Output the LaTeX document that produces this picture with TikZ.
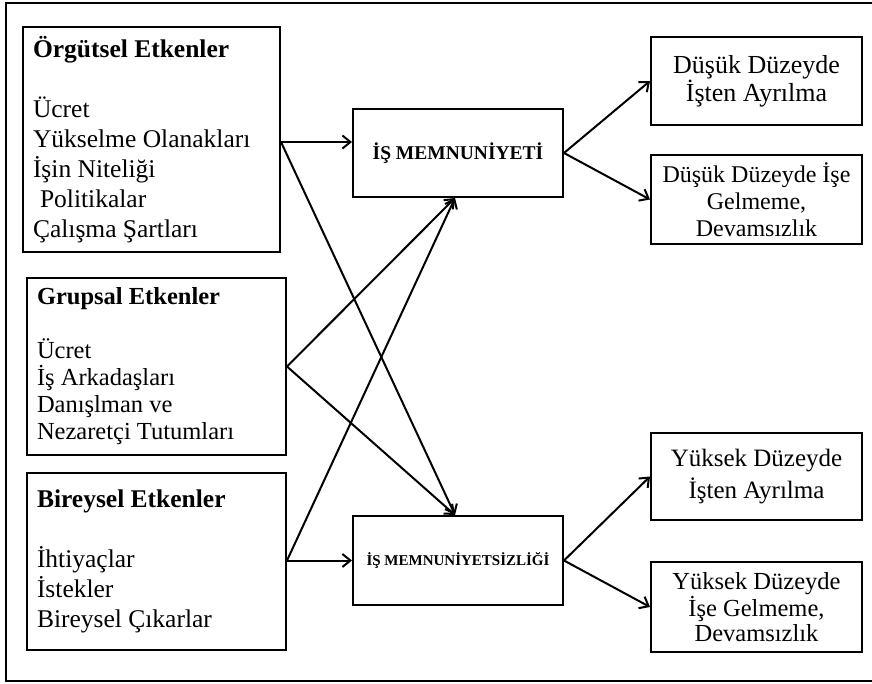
\documentclass[tikz,border=0pt]{standalone}
\usepackage{fontspec}
\setmainfont{Liberation Serif}
\usetikzlibrary{arrows.meta, positioning}

\begin{document}
\begin{tikzpicture}[
        x=1pt, y=-1pt,
        every node/.style={anchor=center},
        box/.style={draw, line width=2pt},
        etken/.style={box, align=flush left, inner xsep=10pt, inner ysep=0pt,
            font={\fontsize{25.5}{30}\selectfont}},
        durum/.style={box, minimum width=210pt, minimum height=88pt, inner sep=0pt},
        sonuc/.style={box, minimum width=211pt, minimum height=88pt, inner sep=0pt,
            align=flush center, font={\fontsize{24}{27}\selectfont}},
        ok/.style={-{Straight Barb[length=8pt, width=13pt]}, line width=2pt}
    ]
    \useasboundingbox (0,0) rectangle (872,684);

    % Frame
    \draw[line width=2pt] (6,3) rectangle (890,681);

    % Etkenler
    \node[etken, text width=237pt, minimum height=225pt] (orgutsel) at (151.5,139.5)
        {\textbf{Örgütsel Etkenler}\\[30pt]
         Ücret\\
         Yükselme Olanakları\\
         İşin Niteliği\\
         \hspace*{7pt}Politikalar\\
         Çalışma Şartları};
    \node[etken, text width=239pt, minimum height=177pt,
        font={\fontsize{24.5}{27}\selectfont}] (grupsal) at (156.5,366.5)
        {\textbf{Grupsal Etkenler}\\[27pt]
         Ücret\\
         İş Arkadaşları\\
         Danışlman ve\\
         Nezaretçi Tutumları};
    \node[etken, text width=239pt, minimum height=177pt] (bireysel) at (156.5,561.5)
        {\textbf{Bireysel Etkenler}\\[30pt]
         İhtiyaçlar\\
         İstekler\\
         Bireysel Çıkarlar};

    % Memnuniyet
    \node[durum, font={\fontsize{19.5}{22}\selectfont\bfseries}] (memnun) at (458,153)
        {İŞ MEMNUNİYETİ};
    \node[durum, minimum height=89pt, font={\fontsize{15}{18}\selectfont\bfseries}]
        (memnunsuz) at (458,560.5) {İŞ MEMNUNİYETSİZLİĞİ};

    % Sonuclar
    \node[sonuc, font={\fontsize{26}{28}\selectfont}] (dusukayr) at (756.5,81)
        {Düşük Düzeyde\\İşten Ayrılma};
    \node[sonuc, below=28pt of dusukayr, minimum height=89pt] (dusukgel)
        {Düşük Düzeyde İşe\\Gelmeme,\\Devamsızlık};
    \node[sonuc, minimum height=87pt, font={\fontsize{25}{32}\selectfont}] (yuksekayr)
        at (756.5,476.5) {Yüksek Düzeyde\\İşten Ayrılma};
    \node[sonuc, below=40pt of yuksekayr, minimum height=90pt,
        font={\fontsize{24.5}{25}\selectfont}] (yuksekgel)
        {Yüksek Düzeyde\\İşe Gelmeme,\\Devamsızlık};

    % Arrows
    \coordinate (m1) at ([yshift=11pt]memnun.west);
    \coordinate (o1) at (m1 -| orgutsel.east);
    \coordinate (b1) at (memnunsuz.west -| bireysel.east);
    \coordinate (mt) at ([xshift=-3pt]memnun.south);
    \coordinate (st) at ([xshift=-3pt]memnunsuz.north);

    \draw[ok] (o1) -- (m1);
    \draw[ok] (o1) -- (st);
    \draw[ok] (grupsal.east) -- (mt);
    \draw[ok] (grupsal.east) -- (st);
    \draw[ok] (b1) -- (mt);
    \draw[ok] (b1) -- (memnunsuz.west);

    \draw[ok] (memnun.east) -- (dusukayr.west);
    \draw[ok] (memnun.east) -- (dusukgel.west);
    \draw[ok] (memnunsuz.east) -- (yuksekayr.west);
    \draw[ok] (memnunsuz.east) -- (yuksekgel.west);

\end{tikzpicture}
\end{document}
